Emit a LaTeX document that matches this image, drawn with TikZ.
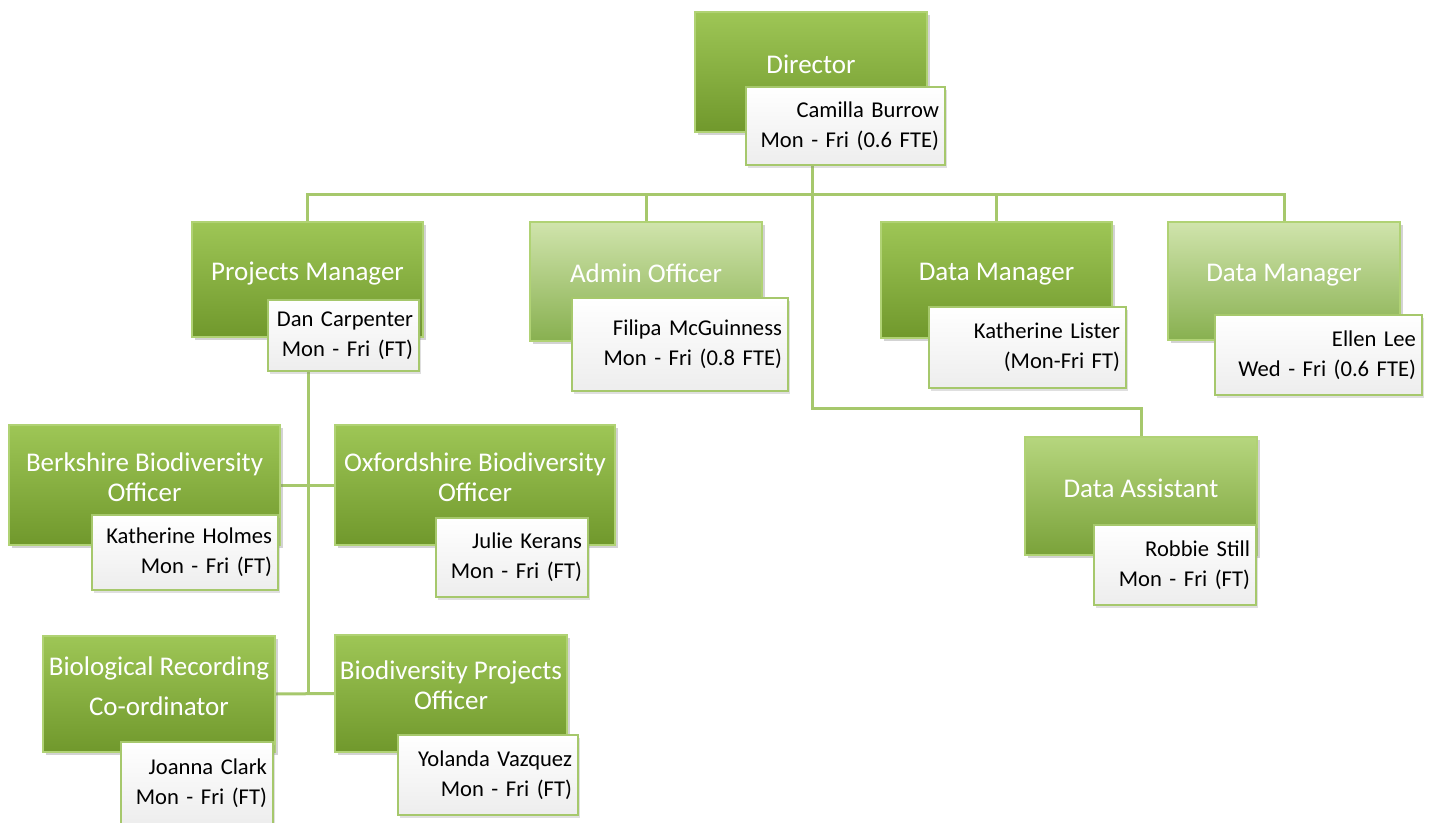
\documentclass[tikz,border=0pt]{standalone}
\usepackage{fontspec}
\setmainfont{Carlito}
\usetikzlibrary{shadows,backgrounds}

\definecolor{roleT}{RGB}{158,198,86}
\definecolor{roleB}{RGB}{112,152,44}
\definecolor{roleE}{RGB}{176,210,116}
\definecolor{paleT}{RGB}{208,228,172}
\definecolor{paleB}{RGB}{136,176,80}
\definecolor{midT}{RGB}{182,214,126}
\definecolor{midB}{RGB}{122,162,58}
\definecolor{lineG}{RGB}{166,200,108}

\begin{document}
\begin{tikzpicture}[x=0.5pt, y=-0.5pt,
  role/.style={draw=roleE, line width=0.6pt, top color=roleT, bottom color=roleB,
    text=white, align=center, inner xsep=1pt, text depth=8pt,
    font=\fontsize{13.5}{15}\selectfont,
    drop shadow={opacity=0.35, shadow xshift=1.5pt, shadow yshift=-1.5pt}},
  pale/.style={top color=paleT, bottom color=paleB},
  midgreen/.style={top color=midT, bottom color=midB},
  person/.style={draw=lineG, line width=0.6pt, top color=white, bottom color=black!7,
    align=right, inner xsep=3pt, inner ysep=2pt,
    font=\fontsize{11.3}{15}\selectfont,
    drop shadow={opacity=0.25, shadow xshift=1pt, shadow yshift=-1.5pt}},
  link/.style={draw=lineG, line width=1.5pt}]
\useasboundingbox (0,0) rectangle (1433,823);

% top
\node (dir)[role, minimum width=116pt, minimum height=60pt] at (811,72) {Director};
\node (dirp)[person, text width=93.5pt, minimum height=39pt] at (845.5,126) {Camilla Burrow\\Mon - Fri (0.6 FTE)};

% second row
\node (pm)[role, minimum width=115.5pt, minimum height=57.5pt] at (307.5,279.5) {Projects Manager};
\node (pmp)[person, text width=69.5pt, minimum height=35.5pt] at (343.5,335.5) {Dan Carpenter\\Mon - Fri (FT)};
\node (adm)[role, pale, minimum width=116pt, minimum height=59.5pt] at (646,281.5) {Admin Officer};
\node (admp)[person, text width=102pt, minimum height=46.5pt] at (680,344.5) {Filipa McGuinness\\Mon - Fri (0.8 FTE)};
\node (dm)[role, minimum width=115.5pt, minimum height=58pt] at (996.5,280) {Data Manager};
\node (dmp)[person, text width=92.5pt, minimum height=40.5pt] at (1027.5,347.5) {Katherine Lister\\(Mon-Fri FT)};
\node (dm2)[role, pale, minimum width=116pt, minimum height=59pt] at (1284,281) {Data Manager};
\node (dm2p)[person, text width=97.5pt, minimum height=40pt] at (1318.5,355) {Ellen Lee\\Wed - Fri (0.6 FTE)};
\node (da)[role, midgreen, minimum width=116pt, minimum height=59pt] at (1141,496) {Data Assistant};
\node (dap)[person, text width=75pt, minimum height=40pt] at (1175,565) {Robbie Still\\Mon - Fri (FT)};

% under projects manager
\node (berk)[role, minimum width=135.5pt, minimum height=60pt] at (144.5,485) {Berkshire Biodiversity\\Officer};
\node (berkp)[person, text width=87pt, minimum height=37.5pt] at (185,552.5) {Katherine Holmes\\Mon - Fri (FT)};
\node (oxf)[role, minimum width=140pt, minimum height=60pt] at (475,485) {Oxfordshire Biodiversity\\Officer};
\node (oxfp)[person, text width=70pt, minimum height=39.5pt] at (512,557.5) {Julie Kerans\\Mon - Fri (FT)};
\node (rec)[role, minimum width=116pt, minimum height=58pt] at (159,694) {Biological Recording\\[5pt]Co-ordinator};
\node (recp)[person, text width=70pt, minimum height=41.5pt] at (197,783.5) {Joanna Clark\\Mon - Fri (FT)};
\node (bpo)[role, minimum width=116pt, minimum height=58.5pt] at (451,693.5) {Biodiversity Projects\\Officer};
\node (bpop)[person, text width=84pt, minimum height=40pt] at (488,775) {Yolanda Vazquez\\Mon - Fri (FT)};

\coordinate (hub) at (812,195);
\coordinate (bend) at (812,408);
\coordinate (pmtop) at (308,371);
\coordinate (pmbot) at (308,695);

\begin{scope}[on background layer]
\draw[link] (hub |- dirp.south) -- (bend) -| (da.north);
\draw[link] (pm.north) |- (hub);
\draw[link] (adm.north) |- (hub);
\draw[link] (dm.north) |- (hub);
\draw[link] (dm2.north) |- (hub);
\draw[link] (pmtop) -- (pmbot);
\draw[link] (berk.east) -- (oxf.west);
\draw[link] (rec.east) -- (bpo.west);
\end{scope}
\end{tikzpicture}
\end{document}
